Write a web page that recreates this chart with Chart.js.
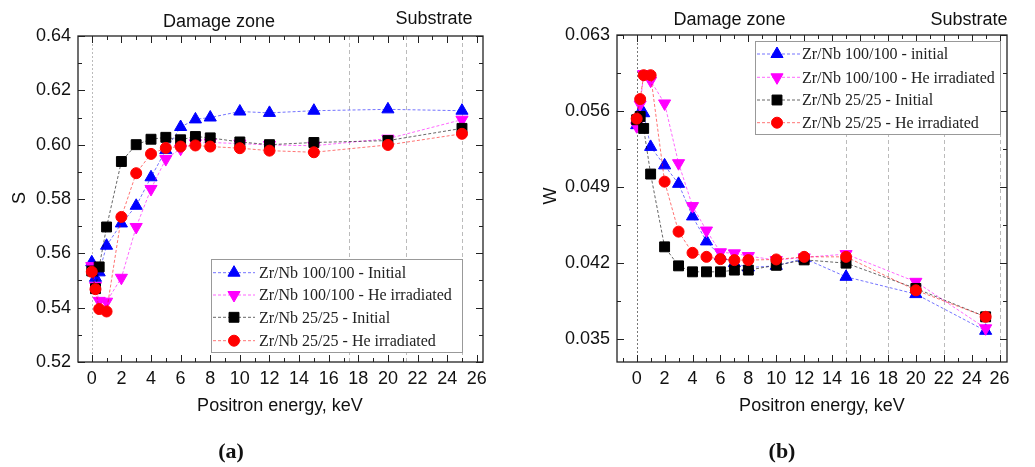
<!DOCTYPE html>
<html>
<head>
<meta charset="utf-8">
<script src="https://cdn.jsdelivr.net/npm/chart.js@4.4.1/dist/chart.umd.min.js"></script>
<style>
    body { margin: 0; background: #fff; }
    #wrap { position: relative; width: 1035px; height: 467px; }
    canvas { position: absolute; top: 0; }
</style>
</head>
<body>
<div id="wrap">
    <canvas id="chartA" width="520" height="467" style="left:0"></canvas>
    <canvas id="chartB" width="515" height="467" style="left:520px"></canvas>
</div>
<script>
// positron energy, keV (same for every series)
var energy = [0, 0.25, 0.5, 1, 2, 3, 4, 5, 6, 7, 8, 10, 12, 15, 20, 25];

// (a) S parameter
var labelsA = ['Zr/Nb 100/100 - Initial', 'Zr/Nb 100/100 - He irradiated', 'Zr/Nb 25/25 - Initial', 'Zr/Nb 25/25 - He irradiated'];
var s100Init = [0.5567, 0.551, 0.553, 0.5628, 0.571, 0.5775, 0.588, 0.598, 0.6065, 0.6093, 0.610, 0.6122, 0.6117, 0.6125, 0.6130, 0.6125];
var s100He   = [0.5553, 0.548, 0.5425, 0.5422, 0.551, 0.5697, 0.5837, 0.5947, 0.5985, 0.6005, 0.6008, 0.6004, 0.5999, 0.5996, 0.6022, 0.6092];
var s25Init  = [0.5535, 0.547, 0.555, 0.5697, 0.5938, 0.600, 0.602, 0.6027, 0.6018, 0.603, 0.6025, 0.601, 0.600, 0.6008, 0.6015, 0.606];
var s25He    = [0.5532, 0.5468, 0.5395, 0.5386, 0.5734, 0.5895, 0.5966, 0.5988, 0.5993, 0.5997, 0.5993, 0.5987, 0.5978, 0.5972, 0.5999, 0.604];
var yTicksA = [0.52, 0.54, 0.56, 0.58, 0.60, 0.62, 0.64];
var zonesA = [0, 17.4, 21.2, 25];

// (b) W parameter
var labelsB = ['Zr/Nb 100/100 - initial', 'Zr/Nb 100/100 - He irradiated', 'Zr/Nb 25/25 - Initial', 'Zr/Nb 25/25 - He irradiated'];
var w100Init = [0.0547, 0.0559, 0.0558, 0.0527, 0.0510, 0.0493, 0.0463, 0.0440, 0.04265, 0.0420, 0.0416, 0.04175, 0.04244, 0.04074, 0.03915, 0.03577];
var w100He   = [0.0546, 0.0566, 0.0594, 0.0588, 0.0567, 0.0512, 0.04725, 0.0450, 0.0430, 0.0429, 0.04265, 0.04228, 0.04253, 0.04283, 0.04028, 0.0360];
var w25Init  = [0.0552, 0.0555, 0.0544, 0.0502, 0.0435, 0.04175, 0.0412, 0.0412, 0.0412, 0.04136, 0.04136, 0.0418, 0.0423, 0.0420, 0.03967, 0.03706];
var w25He    = [0.0553, 0.0571, 0.0593, 0.0593, 0.0495, 0.0449, 0.04295, 0.04258, 0.04237, 0.04228, 0.04228, 0.04234, 0.04258, 0.04258, 0.0395, 0.03706];
var yTicksB = [0.035, 0.042, 0.049, 0.056, 0.063];
var zonesB = [0, 15, 18, 22, 26];

var xTicks = [0, 2, 4, 6, 8, 10, 12, 14, 16, 18, 20, 22, 24, 26];

var styles = [
    { color: '#0000ff', line: 'rgba(0,0,255,0.55)', shape: 'triangle', rot: 0, r: 7 },
    { color: '#ff00ff', line: 'rgba(255,0,255,0.6)', shape: 'triangle', rot: 180, r: 7 },
    { color: '#000000', line: 'rgba(0,0,0,0.6)', shape: 'rect', rot: 0, r: 7 },
    { color: '#ff0000', line: 'rgba(255,0,0,0.55)', shape: 'circle', rot: 0, r: 5.5 }
];

function makeSets(labels, values) {
    return values.map(function(vals, i) {
        var st = styles[i];
        return {
            label: labels[i],
            data: energy.map(function(e, k) { return { x: e, y: vals[k] }; }),
            borderColor: st.line,
            borderWidth: 1,
            borderDash: [3, 2],
            backgroundColor: st.color,
            pointBackgroundColor: st.color,
            pointBorderColor: st.color,
            pointBorderWidth: 1,
            pointStyle: st.shape,
            pointRotation: st.rot,
            pointRadius: st.r,
            order: 4 - i,
            clip: false
        };
    });
}

function drawMarker(ctx, st, x, y) {
    if (Chart.helpers && Chart.helpers.drawPoint) {
        ctx.fillStyle = st.color;
        ctx.strokeStyle = st.color;
        ctx.lineWidth = 1;
        Chart.helpers.drawPoint(ctx, { pointStyle: st.shape, rotation: st.rot, radius: st.r, borderWidth: 1 }, x, y);
    }
}

function panelPlugin(p) {
    return {
        id: 'panel' + p.name,
        beforeDatasetsDraw: function(chart) {
            var ctx = chart.ctx, a = chart.chartArea, xs = chart.scales.x;
            ctx.save();
            ctx.lineWidth = 1;
            p.zones.forEach(function(z, i) {
                var px = Math.round(xs.getPixelForValue(z)) + 0.5;
                ctx.strokeStyle = (i === 0 && p.name === 'b') ? '#777' : '#bbb';
                ctx.setLineDash(i === 0 ? [2, 2] : [4, 3]);
                ctx.beginPath();
                ctx.moveTo(px, a.top);
                ctx.lineTo(px, a.bottom);
                ctx.stroke();
            });
            ctx.restore();
        },
        afterDatasetsDraw: function(chart) {
            var ctx = chart.ctx, a = chart.chartArea, xs = chart.scales.x, ys = chart.scales.y;
            ctx.save();
            ctx.strokeStyle = '#222';
            ctx.lineWidth = 1.3;
            ctx.strokeRect(a.left, a.top, a.right - a.left, a.bottom - a.top);
            ctx.lineWidth = 1;
            ctx.beginPath();
            // x ticks, every 1 keV, inward on bottom and top
            for (var v = Math.ceil(xs.min); v <= xs.max; v++) {
                var px = Math.round(xs.getPixelForValue(v)) + 0.5;
                var len = (v % 2 === 0) ? 7 : 4;
                ctx.moveTo(px, a.bottom); ctx.lineTo(px, a.bottom - len);
                ctx.moveTo(px, a.top); ctx.lineTo(px, a.top + len);
            }
            // y ticks, major and halfway minor
            var yt = p.yTicks;
            var half = (yt[1] - yt[0]) / 2;
            for (var k = 0; k < yt.length; k++) {
                [yt[k], yt[k] + half].forEach(function(val, m) {
                    if (val > ys.max + 1e-9) return;
                    var py = Math.round(ys.getPixelForValue(val)) + 0.5;
                    var ln = m === 0 ? 7 : 4;
                    ctx.moveTo(a.left, py); ctx.lineTo(a.left + ln, py);
                    ctx.moveTo(a.right, py); ctx.lineTo(a.right - ln, py);
                });
            }
            ctx.stroke();
            ctx.restore();
        },
        afterDraw: function(chart) {
            var ctx = chart.ctx;
            ctx.save();
            ctx.fillStyle = '#111';
            ctx.textAlign = 'center';
            ctx.textBaseline = 'middle';
            ctx.font = '18px "Liberation Sans", Arial, sans-serif';
            ctx.fillText('Damage zone', p.damage[0], p.damage[1]);
            ctx.fillText('Substrate', p.substrate[0], p.substrate[1]);
            ctx.fillText('Positron energy, keV', p.xTitle[0], p.xTitle[1]);
            ctx.save();
            ctx.translate(p.yTitle[0], p.yTitle[1]);
            ctx.rotate(-Math.PI / 2);
            ctx.fillText(p.yLabel, 0, 0);
            ctx.restore();
            ctx.font = 'bold 22px "Liberation Serif", "DejaVu Serif", serif';
            ctx.fillText('(' + p.name + ')', p.tag[0], p.tag[1]);

            // legend box
            var L = p.legend;
            ctx.fillStyle = '#fff';
            ctx.fillRect(L.x, L.y, L.w, L.h);
            ctx.strokeStyle = '#999';
            ctx.lineWidth = 1;
            ctx.strokeRect(L.x + 0.5, L.y + 0.5, L.w, L.h);
            ctx.font = '16px "Liberation Serif", "Times New Roman", serif';
            ctx.textAlign = 'left';
            chart.data.datasets.forEach(function(ds, i) {
                var st = styles[i], ry = L.rows[i];
                ctx.strokeStyle = st.line;
                ctx.setLineDash([3, 2]);
                ctx.beginPath();
                ctx.moveTo(L.x1, ry); ctx.lineTo(L.x2, ry);
                ctx.stroke();
                ctx.setLineDash([]);
                drawMarker(ctx, st, L.mx, ry);
                ctx.fillStyle = '#222';
                ctx.fillText(ds.label, L.tx, ry + 1);
            });
            ctx.restore();
        }
    };
}

function makeChart(id, p) {
    var ctx = document.getElementById(id).getContext('2d');
    return new Chart(ctx, {
        type: 'line',
        data: { datasets: makeSets(p.labels, p.values) },
        options: {
            responsive: false,
            animation: false,
            events: [],
            layout: { padding: { left: 0, top: p.area.top, right: p.area.right, bottom: 0 } },
            plugins: { legend: { display: false }, tooltip: { enabled: false } },
            scales: {
                x: {
                    type: 'linear',
                    min: p.xMin, max: p.xMax,
                    grid: { display: false, drawTicks: false, tickLength: 0 },
                    border: { display: false },
                    afterFit: function(s) { s.height = 467 - p.area.bottom; },
                    afterBuildTicks: function(s) { s.ticks = xTicks.map(function(v) { return { value: v }; }); },
                    ticks: {
                        padding: 6,
                        color: '#111',
                        font: { family: '"Liberation Sans Narrow", "Liberation Sans", Arial', size: 18 },
                        maxRotation: 0,
                        autoSkip: false,
                        callback: function(v) { return String(v); }
                    }
                },
                y: {
                    min: p.yMin, max: p.yMax,
                    grid: { display: false, drawTicks: false, tickLength: 0 },
                    border: { display: false },
                    afterFit: function(s) { s.width = p.area.left; },
                    afterBuildTicks: function(s) { s.ticks = p.yTicks.map(function(v) { return { value: v }; }); },
                    ticks: {
                        padding: 7,
                        color: '#111',
                        font: { family: '"Liberation Sans", Arial', size: 18 },
                        autoSkip: false,
                        callback: function(v) { return v.toFixed(p.digits); }
                    }
                }
            }
        },
        plugins: [panelPlugin(p)]
    });
}

makeChart('chartA', {
    name: 'a', labels: labelsA, values: [s100Init, s100He, s25Init, s25He],
    yTicks: yTicksA, zones: zonesA, yLabel: 'S', digits: 2,
    xMin: -0.93, xMax: 26.42, yMin: 0.52, yMax: 0.64,
    area: { left: 78, top: 36, right: 37, bottom: 362 },
    damage: [219, 22], substrate: [434, 19], xTitle: [280, 406], yTitle: [20, 198], tag: [231, 452],
    legend: { x: 211, y: 259, w: 251, h: 93, rows: [272.7, 295, 317.3, 340.7], x1: 213, x2: 255, mx: 234, tx: 259 }
});

makeChart('chartB', {
    name: 'b', labels: labelsB, values: [w100Init, w100He, w25Init, w25He],
    yTicks: yTicksB, zones: zonesB, yLabel: 'W', digits: 3,
    xMin: -1.41, xMax: 26.53, yMin: 0.0329, yMax: 0.063,
    area: { left: 97, top: 35, right: 28, bottom: 362 },
    damage: [209.5, 20], substrate: [449, 20], xTitle: [302, 406], yTitle: [31, 196], tag: [262, 452],
    legend: { x: 235, y: 41, w: 245, h: 93, rows: [54, 77.3, 100, 122.7], x1: 237, x2: 280, mx: 257, tx: 282 }
});
</script>
</body>
</html>
